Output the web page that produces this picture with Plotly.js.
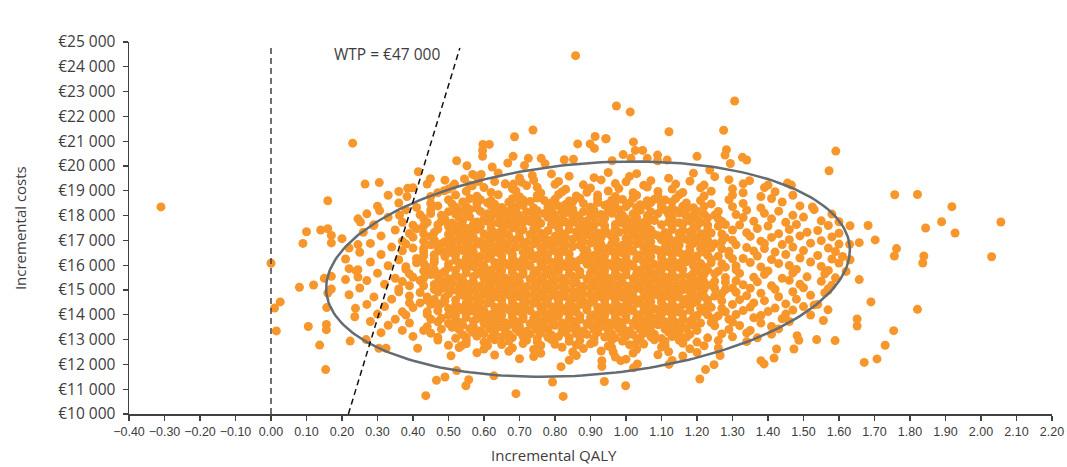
<!DOCTYPE html>
<html>
<head>
<meta charset="utf-8">
<script src="https://cdn.plot.ly/plotly-3.0.1.min.js"></script>
<style>html,body{margin:0;padding:0;background:#fff;}#chart{width:1067px;height:467px;}</style>
</head>
<body>
<div id="chart"></div>
<script>
const xAxisTitle = 'Incremental QALY';
const yAxisTitle = 'Incremental costs';
const wtpLabel = 'WTP = €47 000';
const wtpValue = 47000;
const wtpLineQaly = [0.218, 0.532];
const wtpBaseCost = 10000;
const zeroLineCost = [10000, 24900];
const qalyTicks = [-0.4,-0.3,-0.2,-0.1,0,0.1,0.2,0.3,0.4,0.5,0.6,0.7,0.8,0.9,1.0,1.1,1.2,1.3,1.4,1.5,1.6,1.7,1.8,1.9,2.0,2.1,2.2];
const costTicks = [10000,11000,12000,13000,14000,15000,16000,17000,18000,19000,20000,21000,22000,23000,24000,25000];

const ellCentre = [0.893, 15840];
const ellSemi = [0.7355, 4320];
const ellSkew = [0.056, 440];

const sparsePoints = [
[-0.31,18350],[0.23,20920],[0.16,18600],[0.00,16080],
[0.10,17350],[0.14,17420],[0.16,17470],[0.09,16880],[0.17,17200],[0.17,16900],[0.20,17070],[0.22,16690],[0.21,16250],[0.22,15860],[0.245,16830],[0.245,15820],[0.245,15520],[0.21,15420],[0.17,15550],[0.15,15470],[0.17,15040],[0.16,14880],[0.22,14810],[0.08,15110],[0.12,15200],[0.01,14270],[0.026,14520],[0.157,14290],[0.238,14260],[0.236,13920],[0.105,13530],[0.156,13610],[0.156,13400],[0.015,13350],[0.137,12780],[0.223,12940],[0.154,11790],
[0.268,13000],[0.304,12650],[0.324,12650],[0.413,12650],[0.436,10740],[0.466,11360],[0.49,11490],[0.523,11750],[0.549,11140],[0.557,11380],[0.507,12350],[0.536,12750],[0.628,11540],[0.69,10820],[0.793,11290],[0.823,10710],[0.817,11910],[0.939,11310],[0.932,12150],[0.932,11920],[0.964,12500],
[0.999,11140],[1.208,11410],[1.224,11790],[1.248,11990],[1.265,12360],[1.121,12000],[1.021,11860],[1.032,12020],[0.985,12150],[1.38,12150],[1.389,12020],[1.417,12260],[1.424,12620],[1.473,12620],[1.482,13160],[1.487,12970],[1.537,13000],[1.589,12960],[1.556,13770],[1.569,14200],[1.569,14980],[1.54,14420],[1.651,13550],[1.651,13830],[1.671,12080],[1.707,12220],[1.69,14520],[1.657,15420],[1.631,16220],
[1.591,20600],[1.572,19810],[1.757,18840],[1.821,18850],[1.918,18360],[1.889,17750],[1.844,17500],[1.927,17300],[2.056,17740],[2.03,16340],[1.762,16670],[1.756,16370],[1.839,16370],[1.836,16090],[1.682,17600],[1.702,17020],[1.657,16910],[1.631,17590],[1.63,16840],[1.60,17750],[1.821,14220],[1.754,13360],[1.73,12770],[1.525,18350],[1.455,19310],[1.466,19230],
[0.973,22420],[1.012,22180],[1.306,22620],[1.121,21380],[1.275,21440],[0.944,21100],[1.021,20970],[1.026,20630],[1.047,20630],[0.992,20460],[1.014,20310],[0.961,20210],[1.06,20310],[1.089,20440],[1.089,20210],[1.116,20240],[1.20,20390],[1.283,20660],[1.279,20440],[1.294,20100],[1.328,20350],[1.34,20240],[1.236,19840],[1.348,19410],[1.40,19230],
[0.858,24450],[0.738,21450],[0.686,21180],[0.597,20870],[0.615,20870],[0.596,20630],[0.596,20390],[0.623,19960],[0.523,20210],[0.552,20010],[0.568,19660],[0.592,19660],[0.667,20120],[0.682,20390],[0.725,20310],[0.761,20310],[0.772,20090],[0.714,20020],[0.736,19620],[0.826,20250],[0.852,20270],[0.864,20890],[0.899,20890],[0.911,20710],[0.913,21190],[0.943,21100],[0.415,19770],[0.449,19490],[0.385,19100],[0.383,18770],[0.265,19270],[0.305,19330],[0.306,18200],[0.245,17870],[0.252,17740],[0.362,18010],[0.289,17600],[0.488,19000],[0.517,19270],[0.512,19180],[0.545,19480],[0.567,19200],[0.585,19380],[0.66,19270],[0.683,19270],[0.706,19340]
];

const upperPoints = [
[.64,19720],[.79,19680],[.95,19740],[1.03,19690],[1.19,19710],
[.58,19560],[.70,19520],[.84,19590],[.91,19530],[1.01,19580],[1.12,19510],[1.25,19570],
[.49,19430],[.63,19370],[.74,19420],[.81,19380],[.93,19440],[1.00,19360],[1.07,19410],[1.18,19390],[1.29,19450],
[.44,19270],[.56,19230],[.66,19280],[.72,19210],[.80,19260],[.88,19240],[.97,19290],[1.05,19220],[1.14,19270],[1.22,19230],[1.33,19280],
[.40,19120],[.50,19070],[.60,19130],[.68,19080],[.75,19140],[.83,19060],[.90,19110],[.98,19090],[1.06,19150],[1.13,19070],[1.21,19120],[1.30,19080],[1.39,19130],
[.36,18970],[.47,18920],[.55,18980],[.62,18930],[.69,18990],[.76,18910],[.82,18960],[.89,18940],[.95,18990],[1.02,18920],[1.09,18970],[1.16,18930],[1.24,18980],[1.33,18920],[1.42,18960],
[.33,18820],[.45,18770],[.52,18830],[.58,18780],[.64,18840],[.70,18760],[.75,18810],[.81,18850],[.86,18790],[.92,18830],[.97,18770],[1.03,18820],[1.09,18780],[1.15,18840],[1.22,18790],[1.30,18830],[1.38,18770],[1.47,18820]
];

const corePoints = [
[.50,18640],[.56,18690],[.59,18640],[.62,18600],[.68,18680],[.71,18630],[.75,18710],[.77,18610],[.80,18660],[.84,18590],[.87,18700],[.92,18680],[.96,18620],[.99,18650],[1.02,18700],[1.06,18600],[1.08,18660],[1.11,18630],[1.14,18690],[1.21,18610],[1.29,18640],[1.41,18690],
[.36,18510],[.45,18490],[.51,18470],[.54,18550],[.58,18490],[.61,18520],[.63,18460],[.67,18540],[.70,18500],[.73,18570],[.79,18520],[.83,18450],[.85,18560],[.88,18490],[.92,18530],[.95,18470],[.97,18550],[1.01,18500],[1.04,18440],[1.07,18530],[1.10,18480],[1.13,18560],[1.17,18510],[1.24,18470],[1.33,18490],[1.44,18550],
[.30,18380],[.41,18330],[.47,18390],[.52,18340],[.55,18370],[.58,18300],[.62,18400],[.65,18330],[.68,18360],[.71,18410],[.74,18310],[.78,18350],[.81,18390],[.84,18300],[.90,18340],[.94,18420],[.97,18310],[1.00,18360],[1.03,18330],[1.06,18400],[1.10,18350],[1.13,18290],[1.16,18380],[1.19,18320],[1.22,18370],[1.30,18360],[1.38,18310],[1.49,18390],
[.38,18230],[.45,18230],[.50,18160],[.53,18210],[.56,18250],[.59,18170],[.63,18220],[.66,18190],[.69,18240],[.72,18150],[.75,18200],[.79,18230],[.82,18180],[.85,18260],[.88,18160],[.91,18210],[.95,18190],[.98,18240],[1.04,18220],[1.07,18150],[1.11,18230],[1.14,18200],[1.17,18250],[1.20,18180],[1.26,18170],[1.34,18220],[1.43,18180],[1.53,18240],
[.27,18070],[.42,18030],[.45,18080],[.48,18010],[.52,18060],[.55,18100],[.61,18070],[.64,18040],[.67,18090],[.70,18000],[.74,18050],[.77,18080],[.80,18030],[.83,18110],[.86,18010],[.90,18060],[.93,18040],[.96,18090],[.99,18020],[1.02,18070],[1.06,18000],[1.09,18080],[1.12,18050],[1.15,18100],[1.19,18030],[1.22,18060],[1.25,18020],[1.31,18040],[1.39,18090],[1.47,18010],[1.58,18060],
[.33,17930],[.43,17880],[.49,17860],[.53,17910],[.56,17950],[.60,17870],[.62,17920],[.65,17890],[.69,17940],[.72,17850],[.75,17900],[.78,17930],[.82,17880],[.85,17960],[.87,17860],[.91,17910],[.94,17890],[.98,17940],[1.00,17870],[1.03,17920],[1.07,17850],[1.13,17900],[1.17,17950],[1.20,17880],[1.23,17910],[1.26,17870],[1.33,17920],[1.41,17870],[1.50,17940],
[.37,17730],[.44,17720],[.48,17760],[.51,17700],[.54,17790],[.58,17740],[.61,17770],[.64,17710],[.67,17800],[.71,17730],[.73,17760],[.76,17690],[.80,17780],[.83,17740],[.86,17710],[.89,17790],[.93,17730],[.99,17700],[1.02,17760],[1.05,17720],[1.08,17800],[1.12,17740],[1.15,17710],[1.18,17780],[1.21,17730],[1.27,17760],[1.36,17770],[1.45,17730],[1.55,17790],
[.29,17630],[.40,17610],[.43,17580],[.47,17630],[.50,17560],[.53,17610],[.57,17650],[.59,17570],[.62,17620],[.66,17590],[.69,17640],[.75,17600],[.79,17630],[.81,17580],[.84,17660],[.88,17560],[.91,17610],[.94,17590],[.97,17640],[1.01,17570],[1.04,17620],[1.06,17550],[1.10,17630],[1.13,17600],[1.16,17650],[1.20,17580],[1.23,17610],[1.26,17570],[1.28,17640],[1.32,17620],[1.40,17580],[1.48,17640],[1.57,17600],
[.35,17420],[.41,17470],[.47,17460],[.52,17400],[.55,17490],[.58,17440],[.62,17470],[.65,17410],[.68,17500],[.71,17430],[.74,17460],[.78,17390],[.81,17480],[.84,17440],[.87,17410],[.90,17490],[.94,17430],[.97,17470],[1.00,17400],[1.03,17460],[1.07,17420],[1.13,17440],[1.16,17410],[1.19,17480],[1.23,17430],[1.30,17420],[1.37,17480],[1.46,17440],[1.54,17400],
[.26,17330],[.39,17280],[.43,17270],[.46,17320],[.50,17250],[.53,17300],[.56,17340],[.60,17260],[.63,17310],[.66,17280],[.70,17330],[.73,17240],[.76,17290],[.82,17270],[.86,17350],[.89,17250],[.92,17300],[.95,17280],[.98,17330],[1.02,17260],[1.05,17310],[1.08,17240],[1.11,17320],[1.15,17290],[1.18,17340],[1.21,17270],[1.24,17300],[1.27,17260],[1.34,17310],[1.43,17270],[1.51,17330],[1.60,17290],
[.31,17180],[.40,17130],[.45,17160],[.51,17090],[.54,17180],[.57,17130],[.61,17160],[.64,17100],[.67,17190],[.70,17120],[.74,17150],[.77,17080],[.80,17170],[.83,17130],[.87,17100],[.90,17180],[.93,17120],[.96,17160],[1.00,17090],[1.03,17150],[1.06,17110],[1.09,17190],[1.12,17130],[1.16,17100],[1.19,17170],[1.22,17120],[1.28,17110],[1.35,17160],[1.41,17120],[1.49,17180],[1.58,17140],
[.37,16970],[.43,16970],[.46,17020],[.49,16950],[.53,17000],[.56,17040],[.59,16960],[.62,17010],[.65,16980],[.69,17030],[.72,16940],[.75,16990],[.78,17020],[.81,16970],[.85,17050],[.88,16950],[.91,17000],[.97,17030],[1.01,16960],[1.04,17010],[1.07,16940],[1.10,17020],[1.14,16990],[1.17,17040],[1.20,16970],[1.23,17000],[1.27,16960],[1.30,17010],[1.38,16970],[1.46,17030],[1.55,16990],
[.28,16880],[.38,16850],[.45,16820],[.48,16860],[.51,16800],[.55,16890],[.58,16840],[.61,16870],[.64,16810],[.67,16900],[.71,16830],[.74,16860],[.77,16790],[.80,16880],[.83,16840],[.87,16810],[.90,16890],[.93,16830],[.96,16870],[.99,16800],[1.03,16860],[1.06,16820],[1.12,16840],[1.15,16810],[1.19,16880],[1.22,16830],[1.25,16860],[1.31,16820],[1.39,16870],[1.44,16830],[1.52,16890],[1.60,16850],
[.34,16730],[.40,16690],[.43,16670],[.47,16720],[.50,16650],[.53,16700],[.56,16740],[.60,16660],[.63,16710],[.66,16680],[.69,16730],[.72,16640],[.76,16690],[.79,16720],[.82,16670],[.85,16750],[.88,16650],[.92,16700],[.95,16680],[.98,16730],[1.01,16660],[1.05,16710],[1.08,16640],[1.11,16720],[1.14,16690],[1.18,16740],[1.21,16670],[1.24,16700],[1.27,16660],[1.34,16710],[1.39,16670],[1.47,16730],[1.57,16690],
[.25,16520],[.37,16580],[.43,16540],[.48,16560],[.51,16500],[.54,16590],[.57,16540],[.61,16570],[.64,16510],[.67,16600],[.71,16530],[.73,16560],[.77,16490],[.80,16580],[.83,16540],[.89,16590],[.93,16530],[.96,16570],[.99,16500],[1.02,16560],[1.06,16520],[1.09,16600],[1.12,16540],[1.15,16510],[1.18,16580],[1.22,16530],[1.29,16560],[1.36,16570],[1.42,16530],[1.50,16590],[1.59,16550],
[.31,16430],[.43,16370],[.46,16420],[.49,16350],[.52,16400],[.56,16440],[.59,16360],[.62,16410],[.65,16380],[.68,16430],[.72,16340],[.75,16390],[.78,16420],[.81,16370],[.84,16450],[.88,16350],[.91,16400],[.94,16380],[.97,16430],[1.00,16360],[1.04,16410],[1.07,16340],[1.10,16420],[1.13,16390],[1.17,16440],[1.20,16370],[1.23,16400],[1.26,16360],[1.29,16410],[1.37,16370],[1.45,16430],[1.54,16390],[1.61,16350],
[.36,16220],[.41,16270],[.46,16260],[.52,16200],[.55,16290],[.58,16240],[.61,16270],[.65,16210],[.68,16300],[.71,16230],[.74,16260],[.77,16190],[.81,16280],[.84,16240],[.87,16210],[.90,16290],[.93,16230],[.97,16270],[1.00,16200],[1.03,16260],[1.06,16220],[1.10,16300],[1.13,16240],[1.16,16210],[1.19,16280],[1.24,16230],[1.30,16260],[1.33,16270],[1.41,16230],[1.49,16290],[1.58,16250],
[.28,16130],[.41,16100],[.43,16070],[.46,16120],[.50,16050],[.53,16100],[.56,16140],[.59,16060],[.63,16110],[.66,16080],[.69,16130],[.72,16040],[.76,16090],[.79,16120],[.82,16070],[.85,16150],[.89,16050],[.92,16100],[.95,16080],[.98,16130],[1.01,16060],[1.05,16110],[1.08,16040],[1.11,16120],[1.14,16090],[1.17,16140],[1.21,16070],[1.24,16100],[1.27,16060],[1.35,16110],[1.43,16070],[1.52,16130],[1.60,16090],
[.33,15980],[.38,15940],[.44,15920],[.50,15900],[.54,15990],[.57,15940],[.60,15970],[.64,15910],[.67,16000],[.70,15930],[.73,15960],[.77,15890],[.80,15980],[.83,15940],[.86,15910],[.90,15990],[.93,15930],[.96,15970],[.99,15900],[1.02,15960],[1.06,15920],[1.09,16000],[1.12,15940],[1.15,15910],[1.19,15980],[1.22,15930],[1.28,15920],[1.31,15970],[1.38,15930],[1.46,15990],[1.55,15950],
[.24,15770],[.38,15830],[.43,15770],[.46,15820],[.49,15750],[.52,15800],[.55,15840],[.59,15760],[.62,15810],[.65,15780],[.68,15830],[.71,15740],[.75,15790],[.78,15820],[.81,15770],[.84,15850],[.87,15750],[.91,15800],[.94,15780],[.97,15830],[1.00,15760],[1.04,15810],[1.07,15740],[1.10,15820],[1.13,15790],[1.16,15840],[1.20,15770],[1.23,15800],[1.26,15760],[1.31,15810],[1.40,15770],[1.48,15830],[1.57,15790],[1.62,15750],
[.30,15680],[.39,15650],[.45,15620],[.48,15660],[.52,15600],[.55,15690],[.58,15640],[.61,15670],[.64,15610],[.68,15700],[.71,15630],[.74,15660],[.77,15590],[.80,15680],[.84,15640],[.87,15610],[.90,15690],[.93,15630],[.97,15670],[1.00,15600],[1.03,15660],[1.06,15620],[1.09,15700],[1.13,15640],[1.16,15610],[1.19,15680],[1.22,15630],[1.25,15660],[1.32,15670],[1.39,15630],[1.47,15690],[1.56,15650],
[.35,15470],[.40,15510],[.43,15470],[.47,15520],[.50,15450],[.53,15500],[.57,15540],[.60,15460],[.63,15510],[.66,15480],[.69,15530],[.73,15440],[.76,15490],[.79,15520],[.82,15470],[.85,15550],[.89,15450],[.92,15500],[.95,15480],[.98,15530],[1.02,15460],[1.05,15510],[1.08,15440],[1.11,15520],[1.14,15490],[1.18,15540],[1.21,15470],[1.28,15500],[1.36,15510],[1.44,15470],[1.51,15530],[1.59,15490],
[.27,15380],[.37,15340],[.42,15380],[.48,15360],[.51,15300],[.54,15390],[.57,15340],[.61,15370],[.64,15310],[.67,15400],[.70,15330],[.74,15360],[.77,15290],[.80,15380],[.83,15340],[.86,15310],[.90,15390],[.93,15330],[.96,15370],[.99,15300],[1.03,15360],[1.06,15320],[1.09,15400],[1.12,15340],[1.16,15310],[1.19,15380],[1.22,15330],[1.25,15360],[1.28,15320],[1.31,15370],[1.37,15330],[1.46,15390],[1.55,15350],
[.32,15230],[.39,15170],[.43,15170],[.46,15220],[.49,15150],[.53,15200],[.56,15240],[.59,15160],[.62,15210],[.66,15180],[.69,15230],[.72,15140],[.75,15190],[.78,15220],[.82,15170],[.85,15250],[.88,15150],[.91,15200],[.95,15180],[.98,15230],[1.01,15160],[1.04,15210],[1.07,15140],[1.11,15220],[1.14,15190],[1.17,15240],[1.20,15170],[1.24,15200],[1.33,15210],[1.41,15170],[1.49,15230],[1.58,15190],
[.25,15080],[.36,15040],[.46,15020],[.48,15060],[.51,15000],[.55,15090],[.58,15040],[.61,15070],[.64,15010],[.67,15100],[.71,15030],[.74,15060],[.77,14990],[.80,15080],[.83,15040],[.87,15010],[.90,15090],[.93,15030],[.96,15070],[1.00,15000],[1.03,15060],[1.06,15020],[1.09,15100],[1.12,15040],[1.16,15010],[1.19,15080],[1.22,15030],[1.25,15060],[1.28,15020],[1.30,15080],[1.35,15070],[1.42,15030],[1.50,15090],[1.57,15050],
[.36,14930],[.42,14900],[.47,14920],[.50,14850],[.53,14900],[.56,14940],[.60,14860],[.63,14910],[.66,14880],[.69,14930],[.72,14840],[.76,14890],[.79,14920],[.82,14870],[.85,14950],[.88,14850],[.92,14900],[.95,14880],[.98,14930],[1.01,14860],[1.05,14910],[1.08,14840],[1.11,14920],[1.14,14890],[1.18,14940],[1.21,14870],[1.27,14860],[1.31,14910],[1.38,14870],[1.47,14930],[1.56,14890],
[.29,14720],[.39,14760],[.44,14720],[.49,14700],[.54,14790],[.58,14740],[.61,14770],[.64,14710],[.67,14800],[.70,14730],[.74,14760],[.77,14690],[.80,14780],[.83,14740],[.86,14710],[.90,14790],[.93,14730],[.96,14770],[.99,14700],[1.02,14760],[1.06,14720],[1.09,14800],[1.12,14740],[1.15,14710],[1.19,14780],[1.22,14730],[1.25,14760],[1.34,14770],[1.43,14730],[1.52,14790],
[.34,14630],[.44,14590],[.46,14620],[.49,14550],[.52,14600],[.56,14640],[.59,14560],[.62,14610],[.65,14580],[.68,14630],[.72,14540],[.75,14590],[.78,14620],[.81,14570],[.85,14650],[.88,14550],[.91,14600],[.94,14580],[.97,14630],[1.01,14560],[1.04,14610],[1.07,14540],[1.10,14620],[1.13,14590],[1.17,14640],[1.20,14570],[1.23,14600],[1.27,14560],[1.32,14610],[1.39,14570],[1.48,14630],
[.27,14420],[.39,14480],[.42,14480],[.45,14420],[.48,14460],[.52,14400],[.55,14490],[.58,14440],[.61,14470],[.65,14410],[.68,14500],[.71,14430],[.74,14460],[.77,14390],[.81,14480],[.84,14440],[.87,14410],[.90,14490],[.94,14430],[.97,14470],[1.00,14400],[1.03,14460],[1.06,14420],[1.10,14500],[1.13,14440],[1.16,14410],[1.19,14480],[1.23,14430],[1.30,14420],[1.36,14480],[1.45,14440],[1.53,14400],
[.32,14330],[.40,14290],[.47,14320],[.50,14250],[.53,14300],[.56,14340],[.59,14260],[.63,14310],[.66,14280],[.69,14330],[.72,14240],[.76,14290],[.79,14320],[.82,14270],[.85,14350],[.89,14250],[.92,14300],[.95,14280],[.98,14330],[1.01,14260],[1.05,14310],[1.08,14240],[1.11,14320],[1.14,14290],[1.18,14340],[1.21,14270],[1.24,14300],[1.27,14260],[1.35,14310],[1.42,14270],[1.50,14330],
[.37,14120],[.44,14120],[.47,14160],[.51,14100],[.54,14190],[.57,14140],[.60,14170],[.64,14110],[.67,14200],[.70,14130],[.73,14160],[.77,14090],[.80,14180],[.83,14140],[.86,14110],[.89,14190],[.93,14130],[.96,14170],[.99,14100],[1.02,14160],[1.06,14120],[1.09,14200],[1.12,14140],[1.15,14110],[1.18,14180],[1.22,14130],[1.28,14120],[1.33,14170],[1.40,14130],[1.47,14190],
[.30,14030],[.38,13990],[.44,14020],[.50,13980],[.52,14000],[.55,14040],[.59,13960],[.62,14010],[.65,13980],[.68,14030],[.71,13940],[.75,13990],[.78,14020],[.81,13970],[.84,14050],[.87,13950],[.91,14000],[.94,13980],[.97,14030],[1.00,13960],[1.04,14010],[1.07,13940],[1.10,14020],[1.13,13990],[1.16,14040],[1.20,13970],[1.23,14000],[1.26,13960],[1.31,14010],[1.38,13970],[1.45,14030],[1.52,13990],
[.35,13820],[.45,13820],[.48,13860],[.52,13800],[.55,13890],[.58,13840],[.61,13870],[.64,13810],[.68,13900],[.71,13830],[.74,13860],[.77,13790],[.80,13880],[.84,13840],[.87,13810],[.90,13890],[.93,13830],[.97,13870],[1.00,13800],[1.03,13860],[1.06,13820],[1.09,13900],[1.13,13840],[1.16,13810],[1.19,13880],[1.25,13860],[1.29,13820],[1.36,13880],[1.44,13840],
[.28,13730],[.39,13670],[.47,13720],[.50,13650],[.53,13700],[.57,13740],[.60,13660],[.63,13710],[.66,13680],[.69,13730],[.73,13640],[.76,13690],[.79,13720],[.82,13670],[.85,13750],[.89,13650],[.92,13700],[.95,13680],[.98,13730],[1.02,13660],[1.05,13710],[1.08,13640],[1.11,13720],[1.14,13690],[1.18,13740],[1.21,13670],[1.24,13700],[1.30,13710],[1.38,13670],[1.46,13730],
[.33,13580],[.44,13520],[.51,13500],[.54,13590],[.57,13540],[.61,13570],[.64,13510],[.67,13600],[.70,13530],[.74,13560],[.77,13490],[.80,13580],[.83,13540],[.86,13510],[.90,13590],[.93,13530],[.96,13570],[.99,13500],[1.03,13560],[1.06,13520],[1.09,13600],[1.12,13540],[1.16,13510],[1.19,13580],[1.25,13560],[1.32,13570],[1.41,13530],
[.37,13370],[.43,13370],[.48,13420],[.53,13400],[.56,13440],[.59,13360],[.62,13410],[.66,13380],[.69,13430],[.72,13340],[.75,13390],[.78,13420],[.82,13370],[.85,13450],[.88,13350],[.91,13400],[.95,13380],[.98,13430],[1.01,13360],[1.04,13410],[1.07,13340],[1.11,13420],[1.14,13390],[1.17,13440],[1.20,13370],[1.29,13410],[1.35,13370],[1.43,13430],
[.31,13280],[.45,13260],[.54,13200],[.57,13290],[.60,13240],[.63,13270],[.67,13210],[.70,13300],[.73,13230],[.76,13260],[.79,13190],[.83,13280],[.86,13240],[.89,13210],[.92,13290],[.96,13230],[.99,13270],[1.02,13200],[1.05,13260],[1.08,13220],[1.12,13300],[1.15,13240],[1.18,13210],[1.27,13230],[1.34,13270],[1.41,13220],
[.40,13130],[.47,13090],[.52,13050],[.55,13100],[.58,13140],[.62,13060],[.65,13110],[.68,13080],[.71,13130],[.75,13040],[.78,13090],[.81,13120],[.84,13070],[.87,13150],[.91,13050],[.94,13100],[.97,13080],[1.00,13130],[1.04,13060],[1.07,13110],[1.10,13040],[1.13,13120],[1.17,13090],[1.23,13070],[1.30,13110],[1.37,13070],
[.47,12980],[.55,12960],[.60,12900],[.63,12990],[.67,12940],[.72,12970],[.75,12910],[.79,13000],[.84,12930],[.87,12960],[.91,12890],[.96,12980],[.99,12940],[1.03,12910],[1.08,12990],[1.11,12930],[1.15,12970],[1.20,12900],[1.26,12960],[1.34,12920]
];

const lowerPoints = [
[.50,12770],[.55,12830],[.61,12750],[.65,12800],[.71,12840],[.76,12760],[.80,12810],[.86,12780],[.90,12830],[.95,12740],[1.01,12790],[1.05,12820],[1.11,12770],[1.16,12850],[1.22,12750],
[.53,12680],[.60,12620],[.68,12660],[.74,12600],[.82,12690],[.88,12640],[.96,12670],[1.03,12610],[1.10,12700],[1.18,12630],[1.26,12660],
[.58,12470],[.67,12530],[.76,12450],[.85,12500],[.93,12540],[1.02,12460],[1.12,12510],[1.20,12480],
[.63,12380],[.74,12320],[.86,12360],[.97,12300],[1.09,12390],[1.16,12340],
[.70,12230],[.84,12170],[1.00,12210],[1.13,12160]
];

const allPts = sparsePoints.concat(upperPoints, corePoints, lowerPoints);
const qaly = allPts.map(p => p[0]);
const cost = allPts.map(p => p[1]);

const ellQ = [], ellC = [];
for (let i = 0; i <= 240; i++) {
  const t = 2 * Math.PI * i / 240;
  ellQ.push(ellCentre[0] + ellSemi[0] * Math.cos(t) + ellSkew[0] * Math.sin(t));
  ellC.push(ellCentre[1] + ellSemi[1] * Math.sin(t) + ellSkew[1] * Math.cos(t));
}
const wtpCost = wtpLineQaly.map(q => wtpBaseCost + wtpValue * (q - wtpLineQaly[0]));

const fontMain = 'Open Sans, Liberation Sans, sans-serif';
const fontTick = 'Liberation Sans, Arial, sans-serif';
const txt = '#3d3d3d';
const axisCol = '#404040';

const traces = [
  {x: qaly, y: cost, type: 'scatter', mode: 'markers', hoverinfo: 'skip',
   marker: {color: '#F7962B', size: 9, line: {width: 0}}},
  {x: ellQ, y: ellC, type: 'scatter', mode: 'lines', hoverinfo: 'skip',
   line: {color: '#646c72', width: 2.5}},
  {x: [0, 0], y: zeroLineCost, type: 'scatter', mode: 'lines', hoverinfo: 'skip',
   line: {color: axisCol, width: 1.5, dash: '6px,4px'}},
  {x: wtpLineQaly, y: wtpCost, type: 'scatter', mode: 'lines', hoverinfo: 'skip',
   line: {color: '#111111', width: 1.5, dash: '6px,4px'}}
];

const fmtQ = v => (v < 0 ? '\u2212' : '') + Math.abs(v).toFixed(2);
const fmtC = v => '€' + String(v).replace(/\B(?=(\d{3})+(?!\d))/g, ' ');

const layout = {
  width: 1067, height: 467,
  margin: {l: 129, r: 15, t: 42, b: 53},
  paper_bgcolor: '#ffffff', plot_bgcolor: '#ffffff',
  showlegend: false,
  xaxis: {
    range: [-0.4, 2.2], tickmode: 'array', tickvals: qalyTicks, ticktext: qalyTicks.map(fmtQ),
    tickangle: 0,
    showgrid: false, zeroline: false, showline: true,
    linecolor: axisCol, linewidth: 1.5,
    ticks: 'outside', ticklen: 5, tickwidth: 1.2, tickcolor: axisCol,
    tickfont: {family: fontTick, size: 12.5, color: txt}
  },
  yaxis: {
    range: [10000, 25000], tickmode: 'array', tickvals: costTicks, ticktext: costTicks.map(fmtC),
    showgrid: false, zeroline: false, showline: true,
    linecolor: axisCol, linewidth: 1.5,
    ticks: 'outside', ticklen: 5, tickwidth: 1.2, tickcolor: axisCol,
    ticklabelstandoff: 4,
    tickfont: {family: fontMain, size: 15.5, color: txt}
  },
  annotations: [
    {text: wtpLabel, x: 0.172, y: 24530, xref: 'x', yref: 'y', xanchor: 'left', yanchor: 'middle',
     showarrow: false, font: {family: fontMain, size: 15.5, color: txt}},
    {text: xAxisTitle, x: 0.796, y: -0.11, xref: 'x', yref: 'paper', xanchor: 'center', yanchor: 'middle',
     showarrow: false, font: {family: fontMain, size: 15, color: txt}},
    {text: yAxisTitle, x: -0.118, y: 0.5, xref: 'paper', yref: 'paper', xanchor: 'center', yanchor: 'middle',
     textangle: -90, showarrow: false, font: {family: fontMain, size: 15, color: txt}}
  ]
};

Plotly.newPlot('chart', traces, layout, {displayModeBar: false, staticPlot: true});
</script>
</body>
</html>
